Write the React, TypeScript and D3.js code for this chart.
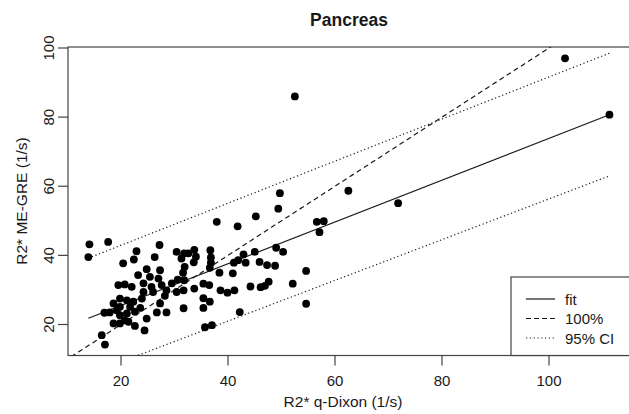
import React from 'react';
import * as d3 from 'd3';

// R2* q-Dixon (x) vs R2* ME-GRE (y)
const qDixon = [
  14.1, 17.6, 13.9, 52.5, 103.0, 111.3, 62.5, 71.8, 56.6, 57.9, 57.1, 49.7, 49.4, 45.2,
  37.9, 41.8, 54.6, 52.1, 54.6, 50.3, 49.0, 48.8, 47.3, 45.9, 45.0, 43.3, 42.9, 41.9, 41.1,
  40.9, 38.4, 47.6, 46.9, 46.1, 44.2, 41.2, 39.9, 38.6, 42.2, 37.0, 35.7,
  36.7, 36.8, 36.8, 36.6, 33.7, 32.6, 31.8, 30.4, 34.0, 33.6, 31.3, 31.9, 31.6, 31.8,
  35.4, 36.5, 33.7, 31.7, 35.4, 36.6, 35.4, 31.7,
  27.2, 22.9, 22.4, 26.3, 20.4, 24.8, 27.3, 23.2, 25.4, 27.0,
  19.5, 20.7, 22.0, 24.2, 25.7, 27.6, 29.5, 30.6,
  24.2, 26.0, 28.5, 30.4, 28.2,
  19.8, 21.1, 22.3, 23.9, 18.6, 19.8, 21.7, 23.6, 27.3,
  17.9, 16.9, 19.2, 21.1, 22.6, 19.8, 26.7, 28.5,
  18.6, 19.8, 21.4, 22.6, 24.4, 24.8, 20.7, 16.4, 17.0
];
const meGre = [
  43.2, 43.9, 39.5, 86.0, 97.0, 80.7, 58.7, 55.1, 49.7, 49.9, 46.7, 58.0, 53.5, 51.3,
  49.7, 48.4, 35.5, 31.8, 26.0, 41.0, 42.2, 37.0, 37.2, 38.1, 41.0, 37.9, 40.3, 38.6, 37.9,
  34.8, 35.0, 32.4, 31.2, 30.8, 31.0, 29.9, 29.2, 29.9, 23.6, 19.8, 19.2,
  41.5, 39.4, 37.9, 36.4, 41.6, 40.6, 40.6, 41.0, 39.6, 38.0, 39.1, 36.7, 35.0, 32.8,
  31.8, 31.4, 30.4, 29.9, 27.6, 26.6, 24.8, 24.7,
  43.0, 41.2, 38.8, 39.5, 37.7, 36.0, 35.7, 34.3, 33.8, 33.3,
  31.4, 31.6, 30.9, 31.9, 30.9, 31.4, 31.9, 33.0,
  29.4, 29.4, 29.9, 29.4, 28.3,
  27.5, 27.0, 26.6, 27.5, 26.1, 25.1, 25.1, 24.8, 26.1,
  23.5, 23.4, 24.1, 23.2, 23.7, 22.7, 23.5, 23.5,
  20.3, 20.3, 20.8, 19.6, 18.3, 21.7, 21.2, 16.9, 14.2
];

const lineX = [13.9, 111.3];
const fitY = [21.8, 80.7];
const ciUpperY = [39.2, 98.5];
const ciLowerY = [5.6, 63.0];
const identity = [0, 200];

const xTicks = [20, 40, 60, 80, 100];
const yTicks = [20, 40, 60, 80, 100];
const legendItems = ['fit', '100%', '95% CI'];
const legendDash = ['none', '5,3', '1.2,2.6'];

const W = 629;
const H = 414;
const left = 68;
const right = 660;
const top = 47;
const bottom = 355.5;
const font = 'Liberation Sans, Arial, Helvetica, sans-serif';
const ink = '#1a1a1a';
const axisCol = '#444';

export default function App() {
  const x = d3.scaleLinear().domain([20, 100]).range([121, 549]);
  const y = d3.scaleLinear().domain([20, 100]).range([324.5, 48]);
  const pts = qDixon.map((v, i) => [v, meGre[i]] as [number, number]);
  const line = d3.line<[number, number]>().x(d => x(d[0])).y(d => y(d[1]));
  const pairs = (ys: number[], xs: number[] = lineX) => xs.map((v, i) => [v, ys[i]] as [number, number]);

  return (
    <svg width={W} height={H} style={{ position: 'absolute', left: 0, top: 0, background: '#fff' }} fontFamily={font}>
      <defs>
        <clipPath id="plot">
          <rect x={left} y={top} width={right - left} height={bottom - top} />
        </clipPath>
      </defs>
      <text x={349} y={26} textAnchor="middle" fontWeight="bold" fontSize={17.5} fill={ink}>Pancreas</text>

      {/* plot box */}
      <rect x={left} y={top} width={right - left} height={bottom - top} fill="none" stroke={axisCol} strokeWidth={1.2} />

      {xTicks.map(t => (
        <g key={'x' + t}>
          <line x1={x(t)} x2={x(t)} y1={bottom} y2={bottom + 10} stroke={axisCol} strokeWidth={1.2} />
          <text x={x(t)} y={386} textAnchor="middle" fontSize={15} fill={ink}>{t}</text>
        </g>
      ))}
      {yTicks.map(t => (
        <g key={'y' + t}>
          <line x1={left - 10} x2={left} y1={y(t)} y2={y(t)} stroke={axisCol} strokeWidth={1.2} />
          <text transform={`translate(54,${y(t)}) rotate(-90)`} textAnchor="middle" fontSize={15} fill={ink}>{t}</text>
        </g>
      ))}
      <text x={343} y={407} textAnchor="middle" fontSize={15.5} fill={ink}>R2* q-Dixon (1/s)</text>
      <text transform={`translate(27,201) rotate(-90)`} textAnchor="middle" fontSize={15.5} fill={ink}>R2* ME-GRE (1/s)</text>

      <g clipPath="url(#plot)" fill="none" stroke={ink} strokeWidth={1.2}>
        <path d={line(pairs(fitY)) || ''} />
        <path d={line(pairs(identity, identity)) || ''} strokeDasharray="5,3.5" />
        <path d={line(pairs(ciUpperY)) || ''} strokeDasharray="1.2,2.6" />
        <path d={line(pairs(ciLowerY)) || ''} strokeDasharray="1.2,2.6" />
      </g>

      <g fill="#000">
        {pts.map((d, i) => <circle key={i} cx={x(d[0])} cy={y(d[1])} r={3.9} />)}
      </g>

      {/* legend */}
      <rect x={511} y={277} width={200} height={bottom - 277} fill="#fff" stroke={axisCol} strokeWidth={1.2} />
      {legendItems.map((name, i) => (
        <g key={name}>
          <line x1={526} x2={555} y1={299 + i * 19.5} y2={299 + i * 19.5} stroke={ink} strokeWidth={1.2}
            strokeDasharray={legendDash[i]} />
          <text x={565} y={304.5 + i * 19.5} fontSize={15} fill={ink}>{name}</text>
        </g>
      ))}
    </svg>
  );
}
